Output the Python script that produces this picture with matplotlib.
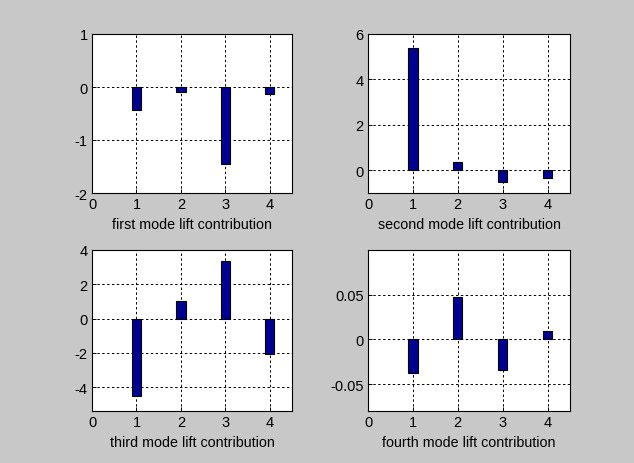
import matplotlib.pyplot as plt

modes = [1, 2, 3, 4]
first = [-0.44, -0.09, -1.45, -0.13]
second = [5.38, 0.37, -0.50, -0.34]
third = [-4.55, 1.04, 3.37, -2.06]
fourth = [-0.0375, 0.0473, -0.034, 0.0098]

labels = ['first mode lift contribution', 'second mode lift contribution',
          'third mode lift contribution', 'fourth mode lift contribution']
ylims = [(-2, 1), (-1, 6), (-5.4, 4), (-0.08, 0.1)]
yticks = [[-2, -1, 0, 1], [0, 2, 4, 6], [-4, -2, 0, 2, 4], [-0.05, 0, 0.05]]
yticklabels = [None, None, None, ['-0.05', '0', '0.05']]

# axes boxes in pixels (left, top, right, bottom)
boxes = [(92, 35, 292, 194), (368, 35, 570, 194),
         (92, 251, 292, 412), (368, 251, 570, 412)]

plt.rcParams['font.family'] = ['Liberation Sans', 'DejaVu Sans']
plt.rcParams['axes.unicode_minus'] = False

W, H = 634, 464
fig = plt.figure(figsize=(W / 100, H / 100), dpi=100, facecolor='#c8c8c8')

for vals, lab, yl, yt, ytl, (l, t, r, b) in zip(
        [first, second, third, fourth], labels, ylims, yticks, yticklabels, boxes):
    ax = fig.add_axes([l / W, 1 - b / H, (r - l) / W, (b - t) / H])
    ax.bar(modes, vals, width=0.21, color='#00008f', edgecolor='black', linewidth=0.8, zorder=3)
    ax.set_xlim(0, 4.5)
    ax.set_ylim(*yl)
    ax.set_xticks([0, 1, 2, 3, 4])
    ax.set_yticks(yt)
    if ytl:
        ax.set_yticklabels(ytl)
    ax.grid(True, color='black', linestyle=(0, (2.5, 2.5)), linewidth=0.7, zorder=1)
    ax.tick_params(direction='in', length=3, width=0.7, pad=3, labelsize=10.5)
    for s in ax.spines.values():
        s.set_linewidth(0.8)
    ax.set_xlabel(lab, fontsize=10.3, labelpad=4)

fig.savefig('out.png', dpi=100, facecolor=fig.get_facecolor())
